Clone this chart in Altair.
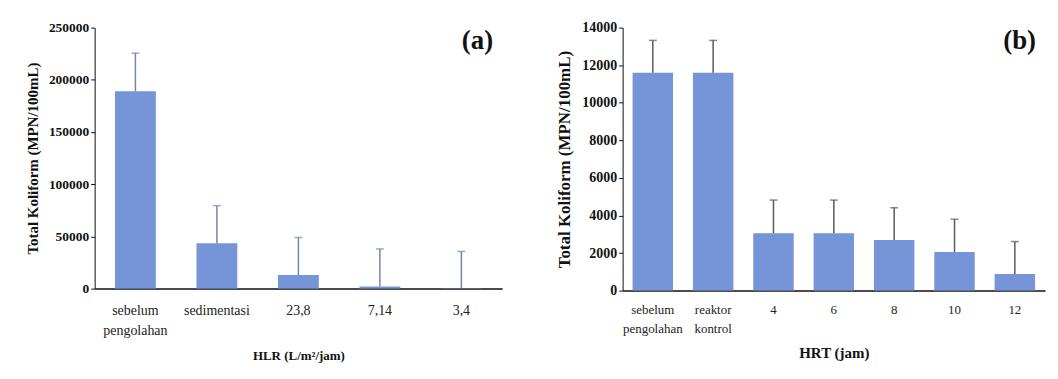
import altair as alt
import pandas as pd

# Panel (a)
cats_a = ["sebelum pengolahan", "sedimentasi", "23,8", "7,14", "3,4"]
vals_a = [189000, 43500, 13000, 2000, 300]
upper_a = [225500, 79500, 49000, 38000, 35600]

# Panel (b)
cats_b = ["sebelum pengolahan", "reaktor kontrol", "4", "6", "8", "10", "12"]
vals_b = [11600, 11600, 3050, 3050, 2700, 2050, 880]
upper_b = [13320, 13320, 4820, 4820, 4410, 3800, 2610]

df_a = pd.DataFrame({"cat": cats_a, "val": vals_a, "up": upper_a})
df_b = pd.DataFrame({"cat": cats_b, "val": vals_b, "up": upper_b})

SERIF = "Liberation Serif"
BAR = "#7595d8"


def panel(df, cats, ymax, ystep, ytitle, xtitle, tag, w, h, pin, pout,
          bar_size, err_color, xlab_size, ylab_size, ytitle_size, xtitle_size,
          lab_pad, line_h, xt_pad):
    xscale = alt.Scale(paddingInner=pin, paddingOuter=pout)
    yscale = alt.Scale(domain=[0, ymax], nice=False)
    xaxis = alt.Axis(labelAngle=0, ticks=False, labelFont=SERIF,
                     labelFontSize=xlab_size, labelColor="#222",
                     labelFontWeight="normal",
                     labelExpr="split(datum.label, ' ')",
                     labelLineHeight=line_h,
                     labelPadding=lab_pad,
                     titleFont=SERIF, titleFontWeight="bold",
                     titleFontSize=xtitle_size, titleColor="#111",
                     titlePadding=xt_pad, domainColor="#111",
                     domainWidth=1.5)
    yaxis = alt.Axis(values=list(range(0, ymax + 1, ystep)),
                     format="d", labelOverlap=False,
                     grid=False, labelFont=SERIF,
                     labelFontSize=ylab_size, labelFontWeight="bold",
                     labelColor="#111", tickColor="#111", tickSize=4,
                     domainColor="#111", titleFont=SERIF,
                     titleFontWeight="bold", titleColor="#111",
                     titleFontSize=ytitle_size, titlePadding=8)
    x = alt.X("cat:N", sort=cats, title=xtitle, scale=xscale, axis=xaxis)

    def y(field):
        return alt.Y(field, title=ytitle, scale=yscale, axis=yaxis)

    base = alt.Chart(df)
    bars = base.mark_bar(color=BAR, size=bar_size).encode(x=x, y=y("val:Q"))
    rule = base.mark_rule(color=err_color, strokeWidth=1.5).encode(
        x=x, y=y("val:Q"), y2="up:Q")
    cap = base.mark_tick(color=err_color, thickness=1.5, size=8).encode(
        x=x, y=y("up:Q"))
    label = alt.Chart(pd.DataFrame({"t": [tag]})).mark_text(
        font=SERIF, fontSize=27, fontWeight="bold", align="right",
        baseline="middle", color="#111").encode(
        text="t:N", x=alt.value(w - 9), y=alt.value(13))
    return alt.layer(bars, rule, cap, label).properties(width=w, height=h)


left = panel(df_a, cats_a, 250000, 50000, "Total Koliform (MPN/100mL)",
             "HLR (L/m²/jam)", "(a)", 409, 262, 0.5, 0.25, 41, "#7088ab",
             14, 13.5, 15, 13, 15, 20, 12)
right = panel(df_b, cats_b, 14000, 2000, "Total Koliform (MPN/100mL)",
              "HRT (jam)", "(b)", 424, 264, 0.33, 0.165, 40.6, "#5a5a5a",
              13, 14, 17, 15, 13, 19, 10)

chart = alt.hconcat(left, right, spacing=54).properties(
    padding={"left": 17, "top": 12, "right": 5, "bottom": 5},
    background="white"
).configure(font=SERIF).configure_view(strokeWidth=0)

chart.save("out.html", embed_options={"renderer": "svg", "actions": False})
